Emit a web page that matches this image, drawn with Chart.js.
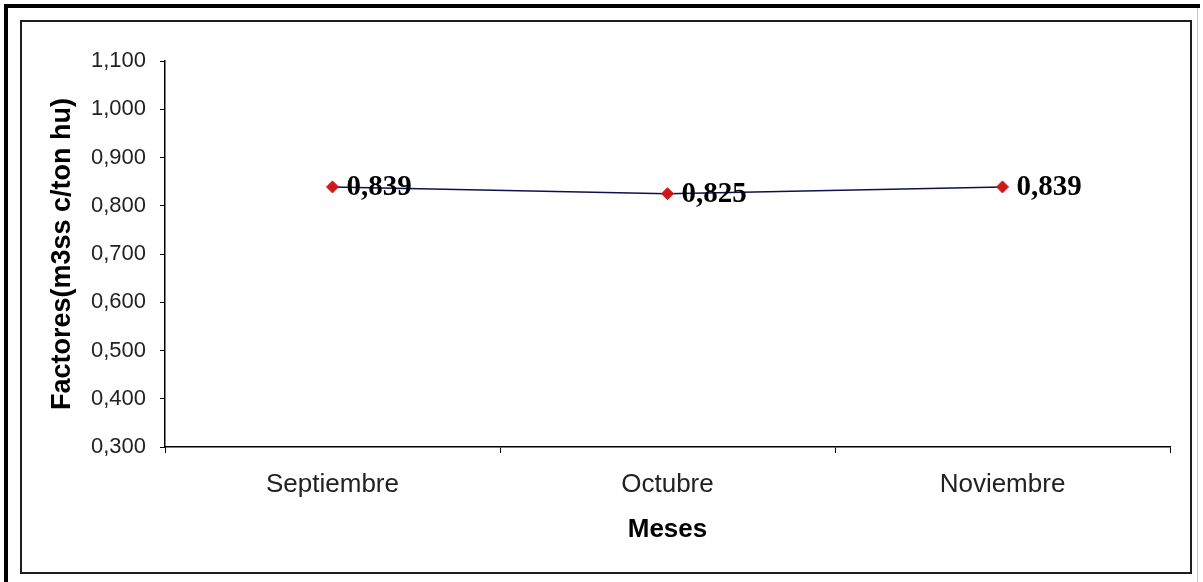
<!DOCTYPE html>
<html>
<head>
<meta charset="utf-8">
<script src="https://cdn.jsdelivr.net/npm/chart.js@4/dist/chart.umd.min.js"></script>
<style>
  html, body { margin: 0; padding: 0; background: #fff; }
  #wrap { width: 1203px; height: 582px; position: relative; }
</style>
</head>
<body>
<div id="wrap"><canvas id="c" width="1203" height="582"></canvas></div>
<script>
// Monthly conversion factors
const months = ['Septiembre', 'Octubre', 'Noviembre'];
const factors = [0.839, 0.825, 0.839];
const valueLabels = ['0,839', '0,825', '0,839'];
const yMin = 0.3;
const yMax = 1.1;
const yStep = 0.1;

// Excel-style decimal comma with three decimals
function fmt(v) {
  return v.toFixed(3).replace('.', ',');
}

// Page frame: heavy left/top edge, light right edge, inner chart border
const framePlugin = {
  id: 'frame',
  beforeDraw(chart) {
    const ctx = chart.ctx;
    ctx.save();
    ctx.fillStyle = '#fff';
    ctx.fillRect(0, 0, chart.width, chart.height);
    ctx.fillStyle = '#000';
    ctx.fillRect(4, 4, 4, 578);
    ctx.fillRect(4, 4, 1196, 4);
    ctx.strokeStyle = '#c8c8c8';
    ctx.lineWidth = 1;
    ctx.beginPath();
    ctx.moveTo(1197.5, 8);
    ctx.lineTo(1197.5, 582);
    ctx.stroke();
    ctx.strokeStyle = '#1e1e1e';
    ctx.lineWidth = 2;
    ctx.strokeRect(21, 21, 1170, 552);
    ctx.restore();
  }
};

// Value labels to the right of each marker
const valueLabelPlugin = {
  id: 'valueLabels',
  afterDatasetsDraw(chart) {
    const ctx = chart.ctx;
    const meta = chart.getDatasetMeta(0);
    ctx.save();
    ctx.font = 'bold 29px "Liberation Serif", "Times New Roman", serif';
    ctx.fillStyle = '#000';
    ctx.textAlign = 'left';
    ctx.textBaseline = 'middle';
    meta.data.forEach((pt, i) => {
      ctx.fillText(valueLabels[i], pt.x + 14, pt.y + 1);
    });
    ctx.restore();
  }
};

new Chart(document.getElementById('c'), {
  type: 'line',
  data: {
    labels: months,
    datasets: [{
      data: factors,
      borderColor: '#10104a',
      borderWidth: 1.5,
      pointStyle: 'rectRot',
      pointRadius: 6,
      pointBackgroundColor: '#cc1a1a',
      pointBorderColor: '#cc1a1a',
      pointBorderWidth: 1,
      tension: 0,
      fill: false
    }]
  },
  options: {
    responsive: false,
    animation: false,
    devicePixelRatio: 1,
    layout: { padding: { left: 0, top: 61, right: 33, bottom: 0 } },
    plugins: {
      legend: { display: false },
      tooltip: { enabled: false }
    },
    scales: {
      x: {
        offset: true,
        grid: {
          offset: true,
          drawOnChartArea: false,
          drawTicks: true,
          tickLength: 6,
          color: '#000'
        },
        border: { color: '#000', width: 1.5 },
        ticks: {
          color: '#222',
          padding: 16,
          font: { family: '"Liberation Sans", Arial, sans-serif', size: 26 }
        },
        title: {
          display: true,
          text: 'Meses',
          color: '#000',
          font: { family: '"Liberation Sans", Arial, sans-serif', size: 26, weight: 'bold' },
          padding: { top: 0, bottom: 37 }
        },
        afterFit(scale) { scale.height = 135; }
      },
      y: {
        min: yMin,
        max: yMax,
        grid: {
          drawOnChartArea: false,
          drawTicks: true,
          tickLength: 5,
          color: '#000'
        },
        border: { color: '#000', width: 1.5 },
        ticks: {
          stepSize: yStep,
          color: '#222',
          padding: 14,
          font: { family: '"Liberation Sans", Arial, sans-serif', size: 22 },
          callback: (v) => fmt(v)
        },
        title: {
          display: true,
          text: 'Factores(m3ss c/ton hu)',
          color: '#000',
          font: { family: '"Liberation Sans", Arial, sans-serif', size: 27, weight: 'bold' },
          padding: { top: 46, bottom: 0 }
        },
        afterFit(scale) { scale.width = 165; }
      }
    }
  },
  plugins: [framePlugin, valueLabelPlugin]
});
</script>
</body>
</html>
